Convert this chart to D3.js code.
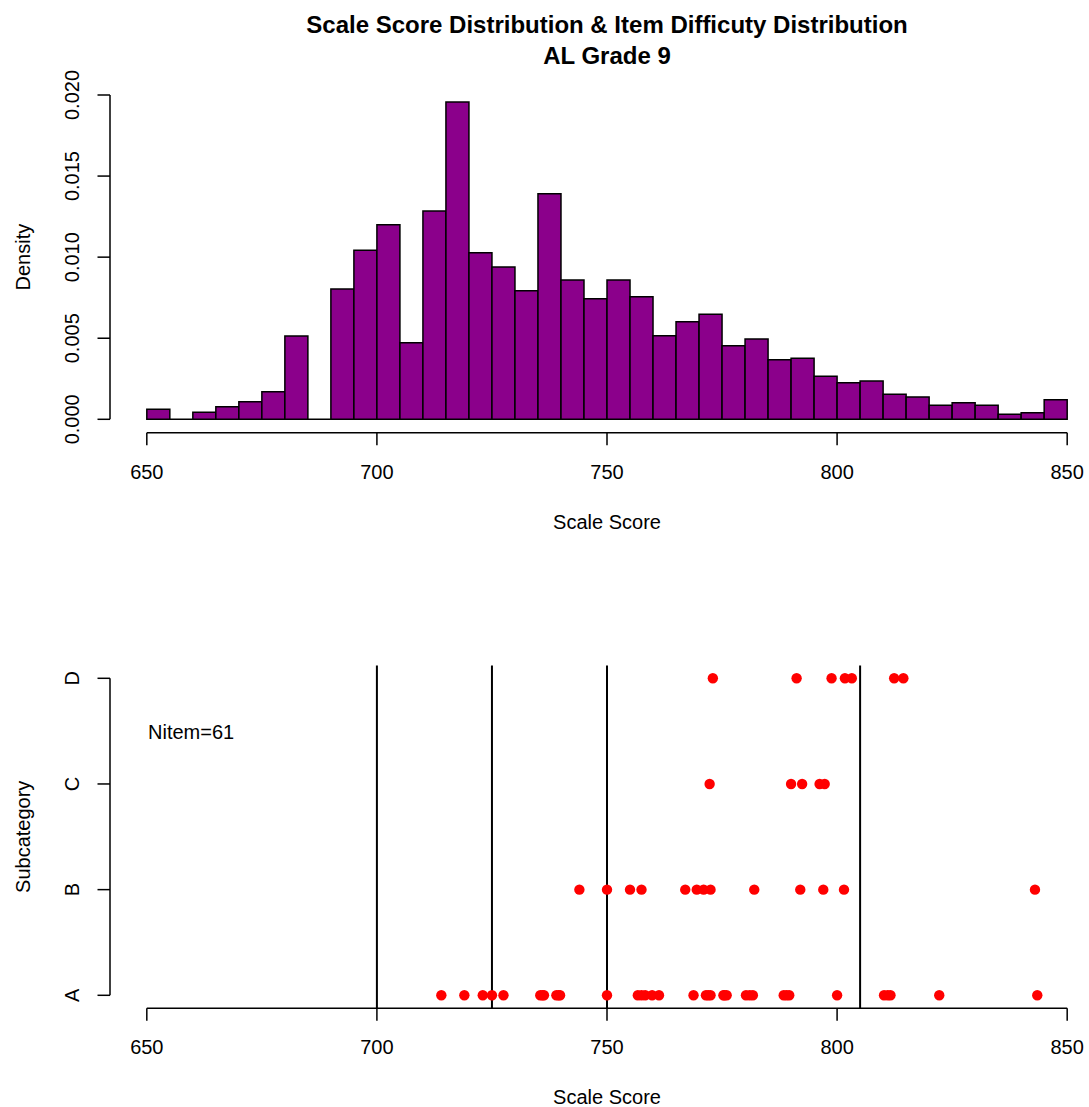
<!DOCTYPE html>
<html>
<head>
<meta charset="utf-8">
<script src="https://cdn.jsdelivr.net/npm/d3@7"></script>
<style>
  body { margin: 0; background: #fff; }
  svg text { font-family: "Liberation Sans", Arial, sans-serif; fill: #000; }
</style>
</head>
<body>
<svg id="viz" width="1089" height="1107"></svg>
<script>
// histogram: bins of width 5 starting at 650
const binStarts = d3.range(650, 850, 5)
const density = [0.00062, 0, 0.00043, 0.00078, 0.00109, 0.0017, 0.00514, 0, 0.00804, 0.01042,
                 0.012, 0.00472, 0.01285, 0.01957, 0.01027, 0.00939, 0.00793, 0.01391, 0.00859, 0.00744,
                 0.00859, 0.00756, 0.00516, 0.00602, 0.00648, 0.00454, 0.00495, 0.00368, 0.00376, 0.00265,
                 0.00226, 0.00236, 0.00154, 0.00138, 0.00086, 0.00102, 0.00086, 0.00031, 0.00041, 0.00121]
const densityTicks = [0, 0.005, 0.010, 0.015, 0.020]
const scoreTicks = [650, 700, 750, 800, 850]

// item difficulty per subcategory
const subcats = ['A', 'B', 'C', 'D']
const itemsA = [714, 719, 723, 725, 727.5, 735.5, 736, 736.3, 739, 739.5, 739.8, 750,
                756.7, 757.5, 758.3, 759.8, 761.3, 768.8, 771.5, 772, 772.5, 775.3, 775.5, 776,
                780.2, 781, 781.7, 788.4, 789, 789.6, 800, 810.2, 811, 811.6, 822.2, 843.5]
const itemsB = [744, 750, 755, 757.5, 767, 769.5, 771, 772.5, 782, 792, 797, 801.5, 843]
const itemsC = [772.3, 790, 792.4, 796.2, 797.3]
const itemsD = [773, 791.2, 798.8, 801.7, 803.2, 812.4, 814.4]
const cutScores = [700, 725, 750, 805]
const nItem = itemsA.length + itemsB.length + itemsC.length + itemsD.length

const titleLines = ['Scale Score Distribution & Item Difficuty Distribution', 'AL Grade 9']

var svg = d3.select('svg#viz')
const FS = 20

const x = d3.scaleLinear().domain([642, 858]).range([110, 1104])
const cx = (110 + 1104) / 2

// ---- title
svg.append('g').selectAll('text')
    .data(titleLines)
    .join('text')
    .attr('x', cx)
    .attr('y', (d, i) => 24 + i * 31)
    .attr('text-anchor', 'middle')
    .attr('dominant-baseline', 'central')
    .attr('font-size', 24)
    .attr('font-weight', 'bold')
    .text(d => d)

function xAxis(g, yLine) {
    g.append('line')
        .attr('x1', x(scoreTicks[0])).attr('x2', x(scoreTicks[scoreTicks.length - 1]))
        .attr('y1', yLine).attr('y2', yLine)
        .attr('stroke', '#000').attr('stroke-width', 1.5)
    g.selectAll('line.tick')
        .data(scoreTicks)
        .join('line')
        .attr('class', 'tick')
        .attr('x1', d => x(d)).attr('x2', d => x(d))
        .attr('y1', yLine).attr('y2', yLine + 12.5)
        .attr('stroke', '#000').attr('stroke-width', 1.5)
    g.selectAll('text.tl')
        .data(scoreTicks)
        .join('text')
        .attr('class', 'tl')
        .attr('x', d => x(d))
        .attr('y', yLine + 39)
        .attr('text-anchor', 'middle')
        .attr('dominant-baseline', 'central')
        .attr('font-size', FS)
        .text(d => d)
    g.append('text')
        .attr('x', cx)
        .attr('y', yLine + 89)
        .attr('text-anchor', 'middle')
        .attr('dominant-baseline', 'central')
        .attr('font-size', FS)
        .text('Scale Score')
}

function yAxis(g, y, ticks, fmt, label) {
    const xl = 110
    g.append('line')
        .attr('x1', xl).attr('x2', xl)
        .attr('y1', y(ticks[0])).attr('y2', y(ticks[ticks.length - 1]))
        .attr('stroke', '#000').attr('stroke-width', 1.5)
    g.selectAll('line.tick')
        .data(ticks)
        .join('line')
        .attr('class', 'tick')
        .attr('x1', xl - 12.5).attr('x2', xl)
        .attr('y1', d => y(d)).attr('y2', d => y(d))
        .attr('stroke', '#000').attr('stroke-width', 1.5)
    g.selectAll('text.tl')
        .data(ticks)
        .join('text')
        .attr('class', 'tl')
        .attr('transform', d => `translate(72, ${y(d)}) rotate(-90)`)
        .attr('text-anchor', 'middle')
        .attr('dominant-baseline', 'central')
        .attr('font-size', FS)
        .text(fmt)
    g.append('text')
        .attr('transform', `translate(23, ${(y(ticks[0]) + y(ticks[ticks.length - 1])) / 2}) rotate(-90)`)
        .attr('text-anchor', 'middle')
        .attr('dominant-baseline', 'central')
        .attr('font-size', FS)
        .text(label)
}

// ---- histogram panel
const yH = d3.scaleLinear().domain([0, 0.020]).range([419.3, 95])
const hist = svg.append('g')

// paths so that empty bins still show as a flat outline
hist.selectAll('path')
    .data(binStarts)
    .join('path')
    .attr('d', (d, i) => {
        const x0 = x(d), x1 = x(d + 5), y0 = yH(0), y1 = yH(density[i])
        return `M${x0},${y0}L${x0},${y1}L${x1},${y1}L${x1},${y0}Z`
    })
    .attr('fill', '#8B008B')
    .attr('stroke', '#000')
    .attr('stroke-width', 1.5)

xAxis(hist.append('g'), 432.7)
yAxis(hist.append('g'), yH, densityTicks, d3.format('.3f'), 'Density')

// ---- item difficulty panel
const yD = d3.scaleLinear().domain([1, 4]).range([995.3, 678.3])
const dots = svg.append('g')

dots.selectAll('line.cut')
    .data(cutScores)
    .join('line')
    .attr('class', 'cut')
    .attr('x1', d => x(d)).attr('x2', d => x(d))
    .attr('y1', yD(4.12)).attr('y2', yD(0.88))
    .attr('stroke', '#000').attr('stroke-width', 2)

const items = [itemsA, itemsB, itemsC, itemsD]
items.forEach((arr, k) => {
    dots.append('g').selectAll('circle')
        .data(arr)
        .join('circle')
        .attr('cx', d => x(d))
        .attr('cy', yD(k + 1))
        .attr('r', 5.2)
        .attr('fill', '#ff0000')
})

dots.append('text')
    .attr('x', 148)
    .attr('y', 732)
    .attr('dominant-baseline', 'central')
    .attr('font-size', FS)
    .text('Nitem=' + nItem)

xAxis(dots.append('g'), 1008.3)
yAxis(dots.append('g'), yD, [1, 2, 3, 4], d => subcats[d - 1], 'Subcategory')
</script>
</body>
</html>
